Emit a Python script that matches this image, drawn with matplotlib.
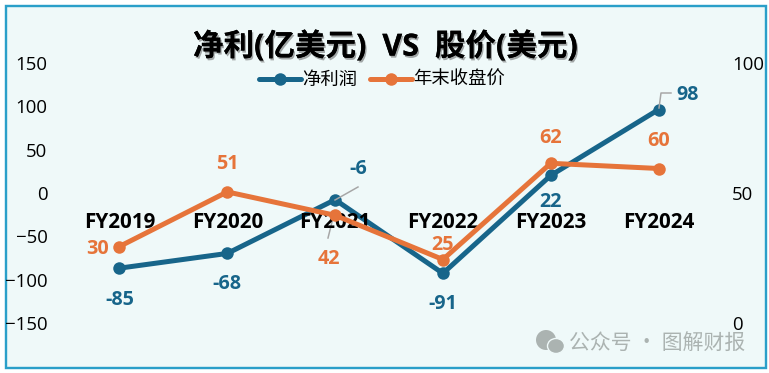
import matplotlib
matplotlib.use("Agg")
import matplotlib.pyplot as plt
import matplotlib.patheffects as pe
from matplotlib.patches import Rectangle, Ellipse
from matplotlib.lines import Line2D
from matplotlib.transforms import ScaledTranslation

plt.rcParams['font.family'] = ['Open Sans', 'Noto Sans CJK SC', 'DejaVu Sans']

years = ['FY2019', 'FY2020', 'FY2021', 'FY2022', 'FY2023', 'FY2024']
profit = [-85, -68, -6, -91, 22, 98]
price = [30, 51, 42, 25, 62, 60]
left_ticks = [-150, -100, -50, 0, 50, 100, 150]
right_ticks = [0, 50, 100]
profit_offsets = [(0, -32), (0, -31), (23, 31), (0, -31), (0, -27), (29, 15)]
price_offsets = [(-22, -2), (0, 28), (-6, -44), (0, 15), (0, 25), (0, 28)]

BLUE = '#17658A'
ORANGE = '#E6743A'
BG = '#EFF9F9'
W, H = 769, 373
DPI = 100
px = 72 / DPI

fig = plt.figure(figsize=(W / DPI, H / DPI), dpi=DPI, facecolor='white')


def fx(x):
    return x / W


def fy(y):
    return 1 - y / H


fig.add_artist(Rectangle((fx(5.5), fy(367.5)), 760 / W, 362 / H, transform=fig.transFigure,
                         facecolor=BG, edgecolor='#2A9FC9', linewidth=2.4 * px, zorder=-5))

ax = fig.add_axes([fx(65.5), fy(324.5), 647 / W, 260 / H])
ax.patch.set_visible(False)
ax2 = ax.twinx()
ax2.patch.set_visible(False)

xs = list(range(len(years)))
ax.plot(xs, profit, color=BLUE, lw=5 * px, marker='o', ms=12.5 * px, mew=0, solid_capstyle='round')
ax2.plot(xs, price, color=ORANGE, lw=5 * px, marker='o', ms=12.5 * px, mew=0, solid_capstyle='round')

ax.set_xlim(-0.5, 5.5)
ax.set_ylim(-150, 150)
ax2.set_ylim(0, 100)
ax.set_yticks(left_ticks)
ax2.set_yticks(right_ticks)
ax.tick_params(axis='y', length=0, pad=18 * px, labelsize=13.4)
ax2.tick_params(axis='y', length=0, pad=19.5 * px, labelsize=13.4)

# tick labels sit a little above their data position in the reference
lift = ScaledTranslation(0, 1.5 / DPI, fig.dpi_scale_trans)
for a in (ax, ax2):
    for label in a.get_yticklabels():
        label.set_transform(label.get_transform() + lift)

ax.xaxis.set_visible(False)
ax2.xaxis.set_visible(True)
ax2.set_xticks(xs)
ax2.set_xticklabels(years)
ax2.spines['bottom'].set_position(('data', 50))
ax2.xaxis.set_ticks_position('bottom')
ax2.tick_params(axis='x', length=0, pad=17.5 * px, labelbottom=True, labelsize=14.9)
for label in ax2.get_xticklabels():
    label.set_fontweight('bold')

for a in (ax, ax2):
    for s in a.spines.values():
        s.set_visible(False)

for x, v, (dx, dy) in zip(xs, profit, profit_offsets):
    ax2.annotate(str(v), xy=(x, v), xycoords=ax.transData, xytext=(dx, dy), textcoords='offset pixels',
                 ha='center', va='center', color=BLUE, fontweight='bold', fontsize=14.2, zorder=6)
for x, v, (dx, dy) in zip(xs, price, price_offsets):
    ax2.annotate(str(v), xy=(x, v), xycoords=ax2.transData, xytext=(dx, dy), textcoords='offset pixels',
                 ha='center', va='center', color=ORANGE, fontweight='bold', fontsize=14.2, zorder=6)

# leader lines
GREY = '#A6A6A6'
fig.add_artist(Line2D([fx(335), fx(358)], [fy(200), fy(187)], color=GREY, lw=1.5 * px, zorder=5))
fig.add_artist(Line2D([fx(659), fx(661), fx(671)], [fy(108), fy(93), fy(93)], color=GREY, lw=1.5 * px, zorder=5))
fig.add_artist(Line2D([fx(334), fx(328)], [fy(214), fy(238)], color=GREY, lw=1.5 * px, zorder=-1))

fig.text(fx(385), fy(47), '净利(亿美元)  VS  股价(美元)', ha='center', va='center', fontsize=22,
         fontweight='bold', color='black',
         path_effects=[pe.withSimplePatchShadow(offset=(1, -1.5), shadow_rgbFace='#555555', alpha=0.5),
                       pe.Normal()])

handles = [Line2D([], [], color=BLUE, lw=5 * px, marker='o', ms=12.5 * px, mew=0, solid_capstyle='round'),
           Line2D([], [], color=ORANGE, lw=5 * px, marker='o', ms=12.5 * px, mew=0, solid_capstyle='round')]
fig.legend(handles, ['净利润', '年末收盘价'], ncols=2, frameon=False, fontsize=13.2,
           loc='center', bbox_to_anchor=(fx(382), fy(80)), handlelength=2.3, handletextpad=0.1,
           columnspacing=0.65)

# watermark
WM = '#ABB3B1'
fig.add_artist(Ellipse((fx(546), fy(340)), 20 / W, 20 / H, transform=fig.transFigure, facecolor=WM,
                       edgecolor='none', zorder=-2))
fig.add_artist(Ellipse((fx(556), fy(346)), 17 / W, 15 / H, transform=fig.transFigure, facecolor=WM,
                       edgecolor=BG, linewidth=1, zorder=-2))
fig.text(fx(657.5), fy(343), '公众号 · 图解财报', ha='center', va='center', fontsize=15, color=WM, zorder=-1,
         family=['Noto Sans CJK SC', 'DejaVu Sans'])

fig.savefig('out.png', dpi=DPI, facecolor=fig.get_facecolor())
